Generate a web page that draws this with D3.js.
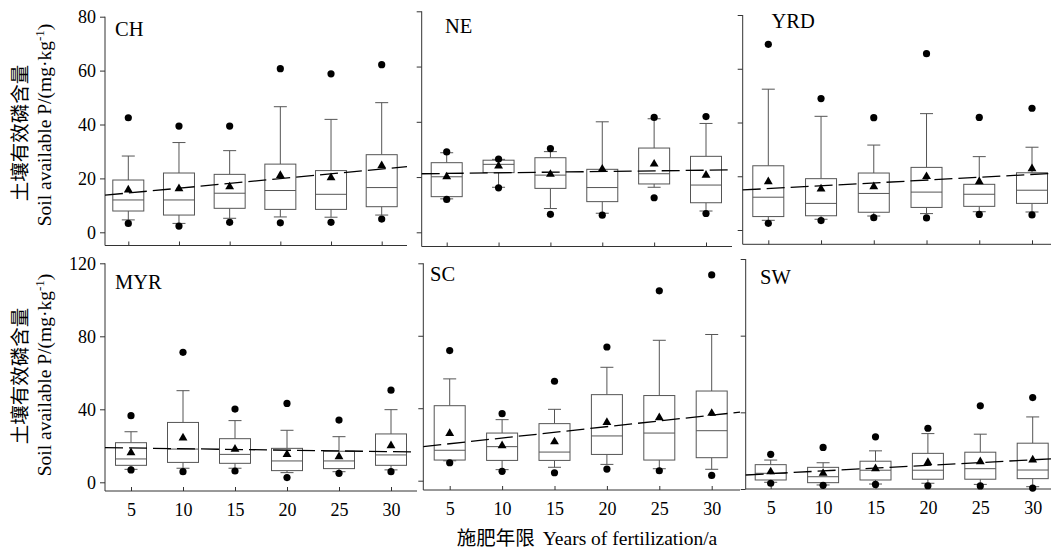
<!DOCTYPE html>
<html>
<head>
<meta charset="utf-8">
<script src="https://cdn.jsdelivr.net/npm/d3@7"></script>
<style>
  body { margin: 0; background: #fff; }
  svg { display: block; }
  text { font-family: "Liberation Serif", "Times New Roman", serif; fill: #000; }
  .cjk { font-family: "Noto Sans CJK SC", sans-serif; fill: #000; }
</style>
</head>
<body>
<svg width="1051" height="551"></svg>
<script>
// **** data ****
var years = [5, 10, 15, 20, 25, 30];
var regions = ["CH", "NE", "YRD", "MYR", "SC", "SW"];

// per year: [lowDot, lowWhisker, q1, median, q3, highWhisker, highDot, mean]
var chStats = [
  [3.3, 4.6, 7.9, 12.0, 19.4, 28.3, 42.5, 15.7],
  [2.3, 3.3, 6.4, 12.0, 22.0, 33.3, 39.4, 16.2],
  [3.7, 5.2, 8.9, 14.5, 21.5, 30.3, 39.4, 16.9],
  [3.5, 5.7, 8.5, 15.5, 25.3, 46.6, 60.7, 21.1],
  [3.7, 5.6, 8.5, 14.1, 22.9, 41.9, 58.8, 20.3],
  [4.9, 6.4, 9.5, 16.6, 28.8, 48.1, 62.2, 24.7]
];
var neStats = [
  [11.9, 12.1, 12.9, 20.1, 25.2, 28.8, 29.1, 20.1],
  [16.1, 16.3, 21.6, 24.6, 26.1, 26.4, 26.5, 24.0],
  [6.5, 8.6, 15.9, 20.7, 27.0, 29.2, 30.3, 21.0],
  [6.2, 6.9, 11.1, 16.2, 22.8, 40.0, null, 22.9],
  [12.5, 16.3, 17.5, 21.2, 30.5, 41.1, 41.6, 24.7],
  [6.8, 7.7, 10.7, 17.1, 27.5, 39.4, 41.9, 20.7]
];
var yrdStats = [
  [2.5, 3.6, 5.0, 12.2, 23.9, 52.4, 69.1, 18.0],
  [3.5, 4.0, 5.3, 9.9, 19.1, 42.3, 48.9, 15.3],
  [4.6, 5.2, 6.6, 13.6, 21.2, 31.6, 41.8, 16.1],
  [4.5, 6.1, 8.4, 14.1, 23.3, 43.3, 65.6, 19.9],
  [5.8, 6.8, 8.8, 13.3, 17.0, 27.3, 41.9, 18.0],
  [5.6, 6.7, 9.9, 14.8, 21.3, 30.8, 45.3, 22.8]
];
var myrStats = [
  [6.8, 7.1, 9.3, 12.8, 21.7, 27.7, 36.5, 16.2],
  [5.8, 7.7, 10.9, 18.2, 32.8, 50.2, 71.2, 24.3],
  [6.2, 7.7, 10.4, 15.3, 23.9, 33.8, 40.1, 18.2],
  [2.6, 5.3, 6.4, 11.7, 18.6, 28.5, 43.2, 15.3],
  [4.9, 5.8, 7.5, 11.7, 17.0, 25.0, 34.1, 14.1],
  [5.8, 6.8, 9.3, 15.0, 26.5, 39.8, 50.5, 20.1]
];
var scStats = [
  [9.9, 11.0, 11.4, 16.8, 41.4, 56.2, 71.8, 26.1],
  [5.2, 6.1, 11.2, 18.8, 26.3, 33.7, 37.0, 19.3],
  [4.4, 7.4, 11.2, 15.8, 31.5, 39.4, 54.9, 21.5],
  [6.4, 9.0, 14.5, 24.7, 47.5, 62.6, 73.8, 32.2],
  [5.5, 6.6, 11.4, 26.3, 47.0, 77.5, 104.8, 34.8],
  [2.9, 6.3, 12.7, 27.6, 49.5, 80.7, 113.6, 37.2]
];
var swStats = [
  [3.0, 3.5, 4.7, 8.2, 12.7, 15.1, 18.1, 9.0],
  [1.9, 2.1, 3.3, 6.4, 11.3, 13.7, 21.7, 8.2],
  [2.4, 2.6, 4.7, 9.8, 14.5, 19.9, 27.2, 10.6],
  [1.7, 3.0, 5.1, 9.8, 18.6, 28.9, 31.7, 13.9],
  [1.6, 2.4, 5.1, 10.6, 19.2, 28.6, 43.4, 14.3],
  [0.5, 1.2, 5.4, 9.9, 23.9, 37.6, 47.7, 15.2]
];

// linear trend: value = intercept + slope * year
var trendIntercept = [12.8, 21.07, 14.35, 19.2, 17.25, 6.55];
var trendSlope = [0.356, 0.047, 0.211, -0.08, 0.63, 0.29];

var topTicks = [0, 20, 40, 60, 80];
var bottomTicks = [0, 40, 80, 120];

var allStats = [chStats, neStats, yrdStats, myrStats, scStats, swStats];

// panel placement (pixels)
var layouts = [
  {x0: 105,   x1: 407,  yZero: 232.3, yTop: 16.7,  yMax: 80,  axisY: 245.5, x5: 128.3, x30: 381.7, lx: 115, ly: 36},
  {x0: 421.7, x1: 732,  yZero: 232.3, yTop: 11.3,  yMax: 80,  axisY: 246.5, x5: 446.7, x30: 706,   lx: 445, ly: 32.5},
  {x0: 742.7, x1: 1051, yZero: 230,   yTop: 15,    yMax: 80,  axisY: 244.3, x5: 768.3, x30: 1032,  lx: 771.5, ly: 27.5},
  {x0: 105,   x1: 417,  yZero: 482.3, yTop: 263.3, yMax: 120, axisY: 491,   x5: 131,   x30: 391,   lx: 115, ly: 288.5},
  {x0: 423.3, x1: 740,  yZero: 480.7, yTop: 263.3, yMax: 120, axisY: 490,   x5: 449.7, x30: 711.7, lx: 430, ly: 281},
  {x0: 745.7, x1: 1051, yZero: 489,   yTop: 259,   yMax: 120, axisY: 489,   x5: 770.7, x30: 1032.7, lx: 760, ly: 283.5}
];

var svg = d3.select("svg");
var boxW = 31, capW = 13;

regions.forEach(function(name, i) {
  var L = layouts[i];
  var stats = allStats[i];
  var isBottom = i >= 3;
  var isLeft = i % 3 == 0;

  var xScale = d3.scaleLinear().domain([5, 30]).range([L.x5, L.x30]);
  var yScale = d3.scaleLinear().domain([0, L.yMax]).range([L.yZero, L.yTop]);

  var g = svg.append("g");

  // y axis
  var yAxis = d3.axisLeft(yScale)
      .tickValues(isBottom ? bottomTicks : topTicks)
      .tickSize(5)
      .tickPadding(4)
      .tickFormat(isLeft ? d3.format("d") : "");
  var ya = g.append("g")
      .attr("transform", "translate(" + L.x0 + ",0)")
      .call(yAxis);
  ya.select(".domain").remove();
  ya.selectAll("line").attr("stroke", "#333");
  ya.selectAll("text").style("font-size", "18px");
  g.append("line")
      .attr("x1", L.x0).attr("x2", L.x0)
      .attr("y1", L.yTop).attr("y2", L.axisY)
      .attr("stroke", "#333");

  // x axis
  var xAxis = d3.axisBottom(xScale)
      .tickValues(years)
      .tickSizeInner(-4)
      .tickSizeOuter(0)
      .tickPadding(12)
      .tickFormat(isBottom ? d3.format("d") : "");
  var xa = g.append("g")
      .attr("transform", "translate(0," + L.axisY + ")")
      .call(xAxis);
  xa.select(".domain").remove();
  xa.selectAll("line").attr("stroke", "#333");
  xa.selectAll("text").style("font-size", "18px");
  g.append("line")
      .attr("x1", L.x0).attr("x2", L.x1)
      .attr("y1", L.axisY).attr("y2", L.axisY)
      .attr("stroke", "#333");

  // boxes
  var box = g.selectAll(".box")
      .data(stats)
      .enter()
      .append("g")
      .attr("class", "box")
      .attr("transform", function(d, j) { return "translate(" + xScale(years[j]) + ",0)"; });

  // whiskers
  box.append("line")
      .attr("x1", 0).attr("x2", 0)
      .attr("y1", function(d) { return yScale(d[4]); })
      .attr("y2", function(d) { return yScale(d[5]); })
      .attr("stroke", "#555");
  box.append("line")
      .attr("x1", 0).attr("x2", 0)
      .attr("y1", function(d) { return yScale(d[2]); })
      .attr("y2", function(d) { return yScale(d[1]); })
      .attr("stroke", "#555");
  box.append("line")
      .attr("x1", -capW / 2).attr("x2", capW / 2)
      .attr("y1", function(d) { return yScale(d[5]); })
      .attr("y2", function(d) { return yScale(d[5]); })
      .attr("stroke", "#555");
  box.append("line")
      .attr("x1", -capW / 2).attr("x2", capW / 2)
      .attr("y1", function(d) { return yScale(d[1]); })
      .attr("y2", function(d) { return yScale(d[1]); })
      .attr("stroke", "#555");

  box.append("rect")
      .attr("x", -boxW / 2)
      .attr("width", boxW)
      .attr("y", function(d) { return yScale(d[4]); })
      .attr("height", function(d) { return yScale(d[2]) - yScale(d[4]); })
      .attr("fill", "white")
      .attr("stroke", "#555");
  box.append("line")
      .attr("x1", -boxW / 2).attr("x2", boxW / 2)
      .attr("y1", function(d) { return yScale(d[3]); })
      .attr("y2", function(d) { return yScale(d[3]); })
      .attr("stroke", "#555");

  // trend line
  var t0 = xScale.invert(L.x0), t1 = xScale.invert(L.x1);
  g.append("line")
      .attr("x1", xScale(t0)).attr("x2", xScale(t1))
      .attr("y1", yScale(trendIntercept[i] + trendSlope[i] * t0))
      .attr("y2", yScale(trendIntercept[i] + trendSlope[i] * t1))
      .attr("stroke", "#000")
      .attr("stroke-width", 1.3)
      .attr("stroke-dasharray", "18,6");

  // percentile dots
  box.append("circle")
      .attr("r", 3.6)
      .attr("cy", function(d) { return yScale(d[0]); })
      .attr("fill", "#000");
  box.filter(function(d) { return d[6] != null; })
      .append("circle")
      .attr("r", 3.6)
      .attr("cy", function(d) { return yScale(d[6]); })
      .attr("fill", "#000");

  // mean triangles
  box.append("path")
      .attr("d", d3.symbol().type(d3.symbolTriangle).size(34))
      .attr("transform", function(d) { return "translate(0," + yScale(d[7]) + ")"; })
      .attr("fill", "#000");

  // panel label
  g.append("text")
      .attr("x", L.lx).attr("y", L.ly)
      .style("font-size", "20.5px")
      .text(name);
});

// y axis titles
[{cy1: 133, cy2: 125}, {cy1: 376, cy2: 375}].forEach(function(p) {
  svg.append("text")
      .attr("class", "cjk")
      .attr("transform", "translate(27," + p.cy1 + ") rotate(-90)")
      .attr("text-anchor", "middle")
      .style("font-size", "19.5px")
      .text("土壤有效磷含量");
  var t = svg.append("text")
      .attr("transform", "translate(51," + p.cy2 + ") rotate(-90)")
      .attr("text-anchor", "middle")
      .style("font-size", "19.5px");
  t.append("tspan").text("Soil available P/(mg·kg");
  t.append("tspan").attr("dy", -7).style("font-size", "13px").text("-1");
  t.append("tspan").attr("dy", 7).text(")");
});

// x axis title
var xt = svg.append("text")
    .attr("x", 587).attr("y", 545)
    .attr("text-anchor", "middle");
xt.append("tspan").attr("class", "cjk").style("font-size", "19.5px").text("施肥年限");
xt.append("tspan").style("font-size", "19.5px").attr("dx", 8).text("Years of fertilization/a");
</script>
</body>
</html>
